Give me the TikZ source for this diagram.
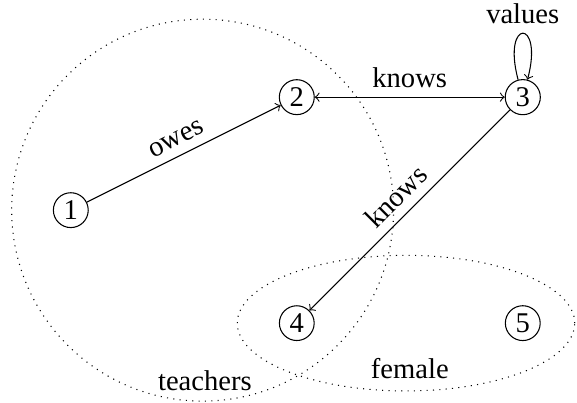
\documentclass[tikz,border=0pt]{standalone}
\usepackage{fontspec}
\setmainfont{Liberation Serif}
\usetikzlibrary{shapes.geometric}
\begin{document}
\begin{tikzpicture}[
                every node/.style={font=\fontsize{10.8pt}{13pt}\selectfont},
                vertex/.style={circle, draw, inner sep=1.5pt},
                group/.style={draw, dotted, inner sep=0pt},
                every edge/.style={draw, ->}
            ]
                \useasboundingbox (-3.94,-1.06) rectangle (3.72,4.29);
                \node[group, circle, minimum size=5.07cm] (teachers) at (-1.25,1.5) {};
                \node[group, ellipse, minimum width=4.48cm, minimum height=1.8cm] (female) at (1.45,0) {};
                \node at (-1.22,-0.76) {teachers};
                \node at (1.5,-0.6) {female};
                \node[vertex] (1) at (-3,1.5) {1};
                \node[vertex] (2) at (0,3) {2};
                \node[vertex] (3) at (3,3) {3};
                \node[vertex] (4) at (0,0) {4};
                \node[vertex] (5) at (3,0) {5};
                \path (1) edge node[above, sloped] {owes} (2)
                      (2) edge[<->] node[above] {knows} (3)
                      (3) edge node[above, sloped] {knows} (4)
                      (3) edge[loop above, min distance=0.85cm] node[above] {values} (3);
            \end{tikzpicture}
\end{document}
